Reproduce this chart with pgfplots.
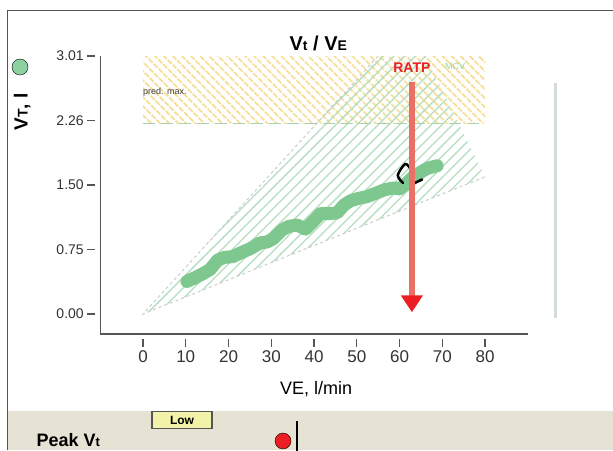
\documentclass[border=0pt]{standalone}
\usepackage{fontspec}
\setmainfont{Liberation Sans}
\usepackage{pgfplots}
\pgfplotsset{compat=1.18}
\usetikzlibrary{patterns.meta,arrows.meta}

\definecolor{vtgreen}{RGB}{126,200,143}
\definecolor{dotgreen}{RGB}{140,210,160}
\definecolor{hatchgreen}{RGB}{182,222,192}
\definecolor{dashgreen}{RGB}{170,208,178}
\definecolor{hatchyellow}{RGB}{247,222,150}
\definecolor{ratred}{RGB}{234,112,102}
\definecolor{tipred}{RGB}{235,30,35}
\definecolor{panelbeige}{RGB}{230,226,212}
\definecolor{axisgray}{RGB}{85,85,85}
\definecolor{sidegray}{RGB}{212,220,216}
\definecolor{lowyellow}{RGB}{242,242,168}

\begin{document}
\begin{tikzpicture}[x=1pt,y=1pt]
\useasboundingbox (0,0) rectangle (613,-450);
\fill[white] (0,0) rectangle (613,-450);
% bottom panel and frame
\fill[panelbeige] (7,-411) rectangle (613,-450);
\draw[axisgray, line width=1.5pt] (7.5,-450) -- (7.5,-10.5) -- (613,-10.5);
\node[anchor=west, font=\fontsize{18}{20}\selectfont\bfseries] at (33,-440) {Peak V{\fontsize{13}{13}\selectfont t}};
\node[draw=axisgray, line width=1.5pt, fill=lowyellow, minimum width=60pt, minimum height=17pt,
      inner sep=0pt, font=\fontsize{12}{12}\selectfont\bfseries] at (182,-420) {Low};

\begin{axis}[
    at={(143pt,-314pt)}, anchor=origin,
    x=4.275pt, y=85.7pt,
    xmin=-10, xmax=90,
    ymin=-0.233, ymax=3.01,
    axis lines=left,
    axis line style={-, axisgray, line width=1.5pt},
    clip=false,
    xtick={0,10,20,30,40,50,60,70,80},
    xticklabels={0,10,20,30,40,50,60,70,80},
    ytick={0,0.7525,1.505,2.2575,3.01},
    yticklabels={0.00,0.75,1.50,2.26,3.01},
    /pgf/number format/assume math mode=true,
    tick align=outside,
    major tick length=8pt,
    tick style={axisgray, line width=1.2pt},
    xtick style={yshift=-5pt},
    ytick style={xshift=-5pt},
    xticklabel style={font=\fontsize{17}{17}\selectfont, text=black!80, yshift=-5pt},
    yticklabel style={font=\fontsize{14}{14}\selectfont, text=black!80, xshift=-5pt},
    title={V{\fontsize{14}{14}\selectfont t} / V{\fontsize{14}{14}\selectfont E}},
    title style={at={(axis description cs:0.51,1.025)}, anchor=center,
                 font=\fontsize{20}{22}\selectfont\bfseries},
    xlabel={VE, l/min},
    xlabel style={at={(axis description cs:0.505,-0.2)}, anchor=center,
                  font=\fontsize{18}{20}\selectfont},
    ylabel={V{\fontsize{14}{14}\selectfont T}, l},
    ylabel style={at={(axis description cs:-0.1825,0.799)}, anchor=center,
                  font=\fontsize{19}{20}\selectfont\bfseries},
]

% predicted maximum band
\addplot[draw=none, pattern={Lines[angle=-45,distance=6.5pt,line width=2pt]},
         pattern color=hatchyellow]
    coordinates {(0,2.22)(80,2.22)(80,3.01)(0,3.01)} -- cycle;

% expected cone
\addplot[draw=none, pattern={Lines[angle=45,distance=7.5pt,line width=1.3pt]},
         pattern color=hatchgreen]
    coordinates {(0,0)(55,3.01)(66,3.01)(80,1.6)} -- cycle;
\addplot[gray!40, line width=1pt, dash pattern=on 3pt off 3pt]
    coordinates {(55,3.01)(0,0)(80,1.6)};

\addplot[dashgreen, line width=1.5pt, dash pattern=on 12pt off 6pt]
    coordinates {(0,2.22)(80,2.22)};

% measured VT
\addplot[vtgreen, line width=13pt, line cap=round, line join=round]
    coordinates {
    (10.3,0.38)(12,0.42)(14,0.47)(15.7,0.52)(17.5,0.63)(19,0.66)(21,0.67)
    (22.7,0.71)(25,0.76)(27.4,0.83)(29,0.84)(30.5,0.88)(32.5,0.98)(34,1.02)
    (36,1.04)(38,0.99)(40,1.09)(41.5,1.17)(43.5,1.17)(45.4,1.18)(47,1.27)
    (48.5,1.32)(50.5,1.35)(52.4,1.37)(54.5,1.41)(56.5,1.45)(58.5,1.47)
    (60,1.46)(61.5,1.52)(63.2,1.60)(64.8,1.65)(66.5,1.70)(68.8,1.73)
    };

% black markers
\addplot[black, line width=2.5pt, line cap=round, smooth]
    coordinates {(62.5,1.70)(61.3,1.75)(59.6,1.62)(60.8,1.53)};
\addplot[black, line width=2.5pt, line cap=round]
    coordinates {(63.2,1.52)(65.3,1.57)};

% RATP arrow
\addplot[ratred, line width=6pt, -{Triangle[width=21pt,length=17pt,color=tipred]}]
    coordinates {(62.9,2.71)(62.9,0.02)};

\node[text=tipred, font=\fontsize{14}{14}\selectfont\bfseries] at (axis cs:62.9,2.88) {RATP};
\node[text=green!45!gray!55, font=\fontsize{9}{9}\selectfont] at (axis cs:73,2.89) {MCV};
\node[anchor=west, inner sep=0pt, text=black!75, font=\fontsize{9}{9}\selectfont] at (axis cs:0,2.59) {pred. max.};

% side line
\addplot[sidegray, line width=3pt] coordinates {(96.4,2.70)(96.4,-0.047)};

% legend dot
\addplot[only marks, mark=*, mark size=8pt, mark options={draw=none, fill=dotgreen}]
    coordinates {(-28.77,2.882)};

% panel marker
\addplot[only marks, mark=*, mark size=8pt, mark options={draw=none, fill=tipred}]
    coordinates {(32.75,-1.482)};
\addplot[black, line width=1.5pt] coordinates {(36,-1.249)(36,-1.599)};

\end{axis}
\end{tikzpicture}
\end{document}
